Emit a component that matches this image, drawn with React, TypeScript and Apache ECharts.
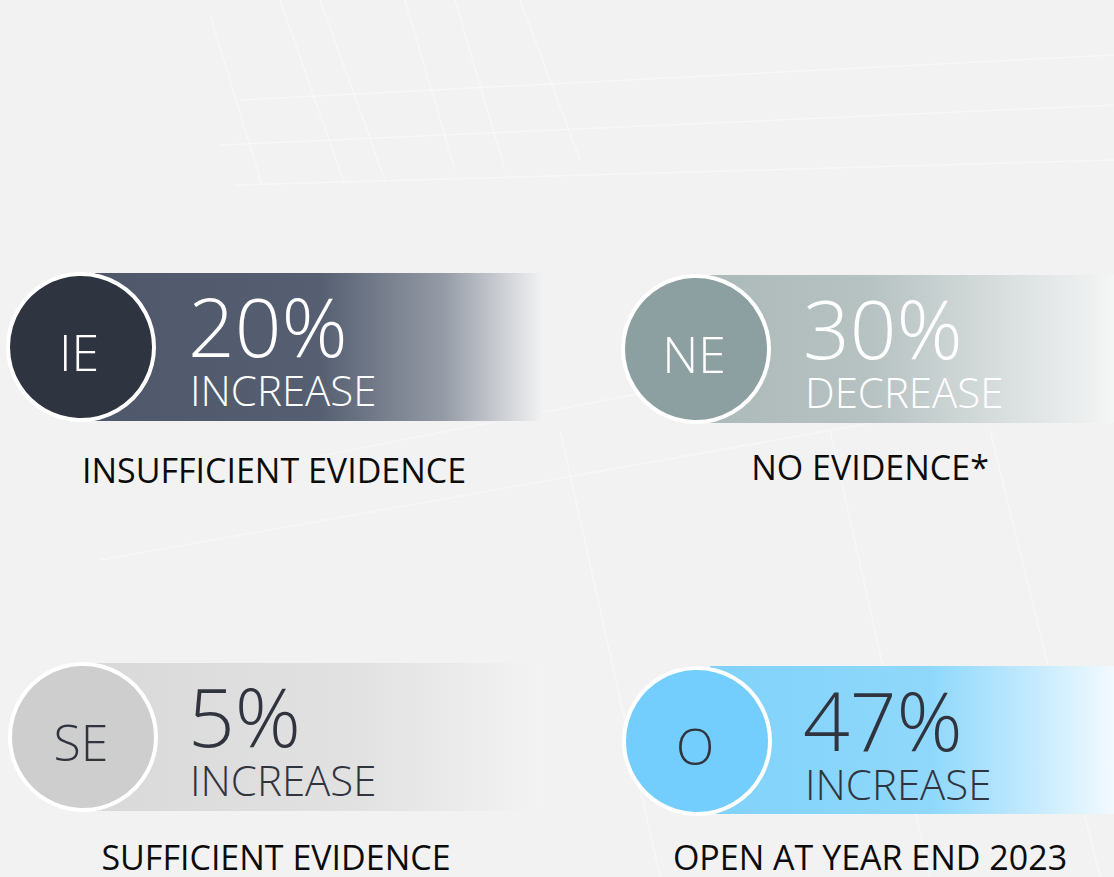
import React, { useEffect, useRef } from "react";
import * as echarts from "echarts";

const codes = ["IE", "NE", "SE", "O"];
const percents = [20, 30, 5, 47];
const directions = ["INCREASE", "DECREASE", "INCREASE", "INCREASE"];
const labels = ["INSUFFICIENT EVIDENCE", "NO EVIDENCE*", "SUFFICIENT EVIDENCE", "OPEN AT YEAR END 2023"];

const FONT = "'Open Sans', 'Noto Sans', sans-serif";

const styles = [
  { circle: "#2f3441", text: "#ffffff", stops: [[0, "#4e586a"], [0.5, "#555f71"], [0.78, "#959ba6"], [1, "#f2f2f2"]] },
  { circle: "#8c9fa1", text: "#ffffff", stops: [[0, "#adbaba"], [0.4, "#b7c2c2"], [1, "#f4f5f5"]] },
  { circle: "#cecece", text: "#30343f", stops: [[0, "#d9d9d9"], [0.6, "#e2e2e2"], [1, "#f3f3f3"]] },
  { circle: "#74cefd", text: "#30343f", stops: [[0, "#80d2fb"], [0.55, "#90d8fb"], [0.8, "#c4eafd"], [1, "#f2faff"]] },
];

const layout = [
  { cx: 81, cy: 347, barX: 95, barW: 447, barY: 273, labelX: 274, labelY: 470 },
  { cx: 696, cy: 349, barX: 710, barW: 404, barY: 275, labelX: 870, labelY: 467 },
  { cx: 83, cy: 737, barX: 95, barW: 447, barY: 663, labelX: 276, labelY: 857 },
  { cx: 697, cy: 741, barX: 710, barW: 404, barY: 666, labelX: 870, labelY: 857 },
];

export default function App() {
  const ref = useRef<HTMLDivElement>(null);
  useEffect(() => {
    if (!ref.current) return;
    const chart = echarts.init(ref.current, undefined, { renderer: "svg" });
    const elements: any[] = [];
    // faint background decoration lines (perspective chart grid)
    const bgLines = [
      [[235, 185], [1114, 160]],
      [[220, 145], [1114, 105]],
      [[240, 100], [1114, 55]],
      [[210, 15], [262, 185]],
      [[280, 0], [345, 185]],
      [[320, 0], [385, 180]],
      [[405, 0], [455, 170]],
      [[455, 0], [505, 170]],
      [[520, 0], [580, 160]],
      [[100, 560], [1114, 380]],
      [[250, 470], [1114, 300]],
      [[560, 430], [660, 877]],
      [[830, 430], [930, 877]],
      [[990, 430], [1100, 877]],
    ];
    bgLines.forEach((l) => {
      elements.push({
        type: "line",
        shape: { x1: l[0][0], y1: l[0][1], x2: l[1][0], y2: l[1][1] },
        style: { stroke: "#ffffff", lineWidth: 1.5, opacity: 0.4 },
        silent: true,
      });
    });
    codes.forEach((code, i) => {
      const L = layout[i];
      const S = styles[i];
      const barH = 148;
      elements.push({
        type: "rect",
        shape: { x: L.barX, y: L.barY, width: L.barW, height: barH },
        style: {
          fill: new echarts.graphic.LinearGradient(0, 0, 1, 0,
            S.stops.map((s) => ({ offset: s[0] as number, color: s[1] as string }))),
        },
      });
      elements.push({
        type: "circle",
        shape: { cx: L.cx, cy: L.cy, r: 73 },
        style: { fill: S.circle, stroke: "#ffffff", lineWidth: 4 },
      });
      elements.push({
        type: "text",
        x: L.cx - 2,
        y: L.cy + 5,
        style: {
          text: code, fill: S.text, font: `300 50px ${FONT}`,
          align: "center", verticalAlign: "middle", lineHeight: 44,
        },
      });
      const tx = L.barX + 97;
      elements.push({
        type: "text",
        x: tx - 4,
        y: L.cy - 22,
        style: {
          text: `${percents[i]}%`, fill: S.text, font: `300 82px ${FONT}`,
          align: "left", verticalAlign: "middle", lineHeight: 60,
        },
      });
      elements.push({
        type: "text",
        x: tx - 2,
        y: L.cy + 42,
        style: {
          text: directions[i], fill: S.text, font: `300 42px ${FONT}`,
          align: "left", verticalAlign: "middle", lineHeight: 32,
        },
      });
      elements.push({
        type: "text",
        x: L.labelX,
        y: L.labelY,
        style: {
          text: labels[i], fill: "#0c0c0c", font: `400 34px ${FONT}`,
          align: "center", verticalAlign: "middle", lineHeight: 28,
        },
      });
    });
    chart.setOption({
      animation: false,
      backgroundColor: "#f2f2f2",
      graphic: { elements },
    });
    return () => chart.dispose();
  }, []);
  return (
    <div
      ref={ref}
      style={{ position: "fixed", left: 0, top: 0, width: 1114, height: 877 }}
    />
  );
}
